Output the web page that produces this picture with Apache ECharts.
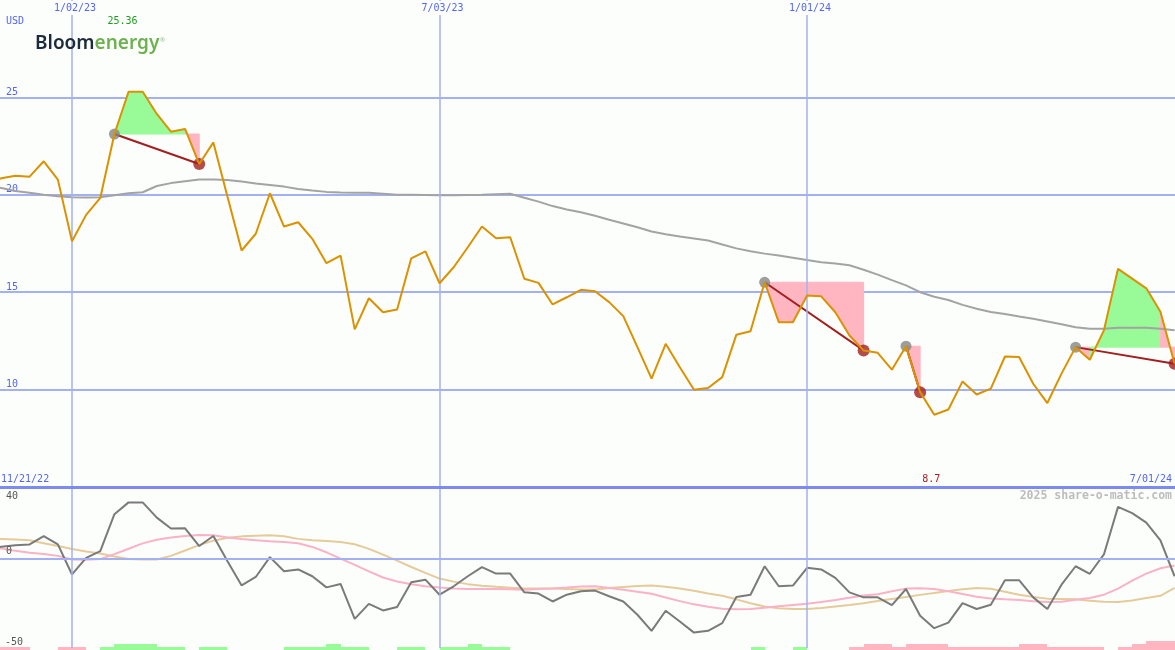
<!DOCTYPE html>
<html><head><meta charset="utf-8">
<script src="https://cdn.jsdelivr.net/npm/echarts@6/dist/echarts.min.js"></script>
<style>html,body{margin:0;padding:0;background:#fcfefc;}#c{width:1175px;height:650px;}</style>
</head><body><div id="c"></div>
<script>
// week index 0 = 1/02/23 ; first point = 11/21/22 (week -6), last = 7/01/24 (week 78)
const firstWeek = -6;
const price = [20.6,20.85,20.98,20.93,21.72,20.78,17.62,18.97,19.84,23.12,
  25.29,25.29,24.15,23.24,23.38,21.58,22.69,19.9,17.14,18.0,
  20.08,18.37,18.59,17.74,16.49,16.88,13.09,14.69,13.97,14.11,
  16.74,17.1,15.46,16.28,17.31,18.37,17.77,17.82,15.69,15.48,
  14.37,14.74,15.12,15.05,14.49,13.77,12.18,10.56,12.35,11.15,
  9.99,10.08,10.64,12.82,13.0,15.51,13.46,13.46,14.83,14.79,
  13.97,12.78,12.01,11.89,11.02,12.23,9.87,8.71,8.98,10.42,
  9.75,10.05,11.7,11.67,10.3,9.31,10.82,12.18,11.53,13.04,
  16.2,15.7,15.2,14.0,11.33];
const movingAvg = [20.45,20.35,20.2,20.1,20.0,19.92,19.87,19.86,19.87,19.98,
  20.08,20.13,20.45,20.6,20.7,20.78,20.78,20.76,20.68,20.58,
  20.5,20.42,20.3,20.22,20.15,20.12,20.11,20.1,20.06,20.0,
  20.0,19.99,19.98,19.98,19.99,20.0,20.03,20.05,19.85,19.65,
  19.42,19.25,19.1,18.92,18.72,18.53,18.33,18.12,17.98,17.86,
  17.76,17.65,17.45,17.25,17.1,16.98,16.88,16.77,16.65,16.54,
  16.47,16.38,16.15,15.9,15.62,15.35,15.0,14.77,14.6,14.35,
  14.15,13.98,13.88,13.75,13.64,13.5,13.35,13.2,13.12,13.13,
  13.17,13.17,13.17,13.12,13.05];
const oscillator = [5.5,6.6,7.5,7.9,12.6,7.9,-8.9,0.4,4.2,24.8,
  31.4,31.4,22.9,16.8,16.9,7.0,12.6,-1.5,-15.0,-10.3,
  0.8,-7.1,-6.1,-9.9,-16.1,-14.2,-33.7,-25.3,-29.0,-27.1,
  -13.3,-11.8,-20.2,-15.5,-9.9,-4.8,-8.4,-8.4,-18.9,-19.6,
  -24.0,-20.2,-18.3,-17.9,-21.1,-24.0,-31.4,-40.4,-29.2,-35.2,
  -41.4,-40.4,-36.1,-21.5,-20.2,-4.3,-15.5,-15.1,-5.2,-6.1,
  -10.8,-18.9,-21.7,-21.7,-26.0,-17.0,-32.0,-38.9,-35.8,-24.9,
  -28.2,-25.8,-12.1,-12.1,-21.7,-28.2,-14.6,-4.3,-8.5,2.3,
  28.9,25.4,20.1,10.2,-9.9];
const oscPink = [6.5,5.6,4.3,3.2,2.6,1.5,-0.5,-0.6,-0.3,2.5,
  5.5,8.5,10.5,11.8,12.6,13.1,13.0,11.8,10.9,10.3,
  9.7,9.3,8.6,6.5,3.5,0.0,-3.5,-7.2,-10.6,-12.8,
  -14.4,-15.5,-16.2,-16.7,-17.0,-17.0,-17.0,-17.2,-17.4,-17.0,
  -16.7,-16.2,-15.6,-15.5,-16.5,-17.4,-18.5,-19.7,-21.8,-23.8,
  -25.6,-27.0,-28.1,-28.3,-28.2,-27.5,-26.7,-26.0,-25.3,-24.3,
  -23.2,-21.9,-20.6,-20.0,-18.3,-16.8,-16.6,-17.0,-18.3,-19.8,
  -21.3,-22.3,-22.8,-23.2,-23.8,-24.3,-24.1,-23.0,-22.1,-20.2,
  -16.8,-12.3,-8.4,-5.4,-3.9];
const oscTan = [11.2,11.0,10.6,10.2,8.6,7.0,5.3,4.0,2.8,1.2,
  -0.3,-0.5,-0.5,1.5,4.5,7.5,10.0,11.6,12.4,12.8,
  13.0,12.5,11.0,10.3,9.8,9.3,8.0,5.4,2.2,-1.2,
  -4.7,-8.0,-11.2,-12.9,-14.3,-15.2,-15.8,-16.3,-16.8,-16.8,
  -16.8,-17.0,-17.3,-17.3,-16.5,-15.9,-15.3,-15.1,-15.8,-16.8,
  -18.0,-19.5,-20.8,-22.8,-25.0,-26.8,-27.8,-28.2,-28.2,-27.7,
  -26.8,-26.0,-25.0,-23.7,-22.6,-21.5,-20.3,-19.3,-18.2,-17.2,
  -16.4,-16.9,-18.5,-20.2,-21.5,-22.4,-22.6,-22.8,-23.6,-24.1,
  -24.3,-23.4,-22.0,-20.8,-16.4];
// signal strip per week (+ green, - pink, magnitude 1..3)
const signalBars = [-1,-1,-1,0,0,-1,-1,0,1,2,
  2,2,1,1,0,1,1,0,0,0,
  0,1,1,1,2,1,1,0,0,1,
  1,0,1,1,2,1,1,0,0,0,
  0,0,0,0,0,0,0,0,0,0,
  0,0,0,0,1,0,0,1,0,0,
  0,-1,-2,-2,-1,-2,-2,-2,-1,-1,
  -1,-1,-1,-2,-2,-1,-1,-1,-1,0,
  -1,-2,-3,-3,0];
// trades: [start week, end week]
const trades = [[3,9],[49,56],[59,60],[71,78]];
const dateTicks = [{week:0,label:'1/02/23'},{week:26,label:'7/03/23'},{week:52,label:'1/01/24'}];
const rangeStartLabel = '11/21/22';
const rangeEndLabel = '7/01/24';
const priceTickLabels = [10,15,20,25];
const oscTickLabels = [40,0,-50];
const highLabel = {week:4, text:'25.36'};
const lowLabel = {week:61, text:'8.7'};

const X_MIN = -5.094, X_MAX = 78.03;
const C = {
  bg:'#fcfefc', grid:'#a3b1f2', divider:'#7b8bf0', blue:'#5566ee',
  price:'#da9200', avg:'#a3a3a3', osc:'#7a7a7a', pink:'#fab2c6', tan:'#e6cb9a',
  up:'#98fb98', down:'#ffb6c1', trade:'#a31f1f', start:'#848484'
};
const MONO = '"DejaVu Sans Mono", monospace';

const weeks = price.map((_, i) => firstWeek + i);
const idx = k => k - firstWeek;
const pairs = arr => arr.map((v, i) => [weeks[i], v]);

const fillData = [];
trades.forEach(([s, e]) => {
  const L = price[idx(s)];
  for (let k = s; k < e; k++) fillData.push([k, price[idx(k)], k + 1, price[idx(k + 1)], L]);
});
const barData = [];
signalBars.forEach((v, i) => { if (v !== 0) barData.push([weeks[i], v]); });

const chart = echarts.init(document.getElementById('c'));
const axisX = gi => ({type:'value', gridIndex:gi, min:X_MIN, max:X_MAX, show:false});

const series = [
  { type:'custom', xAxisIndex:0, yAxisIndex:0, z:1, silent:true, data:fillData,
    encode:{x:[0,2], y:[1,3,4]},
    renderItem:(p, api) => {
      const x0 = api.value(0), y0 = api.value(1), x1 = api.value(2), y1 = api.value(3), L = api.value(4);
      const col = y1 >= L ? C.up : C.down;
      return { type:'polygon', shape:{ points:[api.coord([x0,L]), api.coord([x0,y0]), api.coord([x1,y1]), api.coord([x1,L])] },
        style:{ fill: col, stroke: col, lineWidth: 1 } };
    } },
  { type:'line', xAxisIndex:0, yAxisIndex:0, z:2, data:pairs(movingAvg), showSymbol:false,
    lineStyle:{color:C.avg, width:2}, silent:true,
    markLine:{ silent:true, symbol:['none','none'], label:{show:false},
      lineStyle:{color:C.grid, width:1.5, type:'solid'},
      data: dateTicks.map(t => ({xAxis:t.week})) } }
];
trades.forEach(([s, e]) => {
  series.push({ type:'line', xAxisIndex:0, yAxisIndex:0, z:3, silent:true, showSymbol:false,
    data:[[s, price[idx(s)]], [e, price[idx(e)]]], lineStyle:{color:C.trade, width:2} });
});
series.push(
  { type:'scatter', xAxisIndex:0, yAxisIndex:0, z:4, silent:true, symbolSize:11,
    itemStyle:{color:C.start}, data: trades.map(([s]) => [s, price[idx(s)]]) },
  { type:'scatter', xAxisIndex:0, yAxisIndex:0, z:4, silent:true, symbolSize:12,
    itemStyle:{color:C.trade}, data: trades.map(([, e]) => [e, price[idx(e)]]) },
  { type:'line', xAxisIndex:0, yAxisIndex:0, z:5, data:pairs(price), showSymbol:false,
    lineStyle:{color:C.price, width:2}, silent:true },
  { type:'line', xAxisIndex:1, yAxisIndex:1, z:2, data:pairs(oscTan), showSymbol:false,
    lineStyle:{color:C.tan, width:2}, silent:true,
    markLine:{ silent:true, symbol:['none','none'], label:{show:false},
      data:[
        {xAxis:dateTicks[0].week, lineStyle:{color:C.grid, width:1.5, type:'solid'}},
        {xAxis:dateTicks[1].week, lineStyle:{color:C.grid, width:1.5, type:'solid'}},
        {xAxis:dateTicks[2].week, lineStyle:{color:C.grid, width:1.5, type:'solid'}},
        {yAxis:0, lineStyle:{color:C.grid, width:2, type:'solid'}},
        {yAxis:40, lineStyle:{color:C.divider, width:3, type:'solid'}}
      ] } },
  { type:'line', xAxisIndex:1, yAxisIndex:1, z:3, data:pairs(oscPink), showSymbol:false,
    lineStyle:{color:C.pink, width:2}, silent:true },
  { type:'line', xAxisIndex:1, yAxisIndex:1, z:4, data:pairs(oscillator), showSymbol:false,
    lineStyle:{color:C.osc, width:2}, silent:true },
  { type:'custom', xAxisIndex:2, yAxisIndex:2, z:2, silent:true, data:barData, encode:{x:0, y:1},
    renderItem:(p, api) => {
      const k = api.value(0), v = api.value(1);
      const a = api.coord([k, 0]), b = api.coord([k + 1, Math.abs(v)]);
      const x0 = Math.round(a[0]), x1 = Math.round(b[0]);
      return { type:'rect', shape:{x:x0, y:Math.round(b[1]), width:x1-x0, height:Math.round(a[1])-Math.round(b[1])},
        style:{fill: v > 0 ? C.up : C.down} };
    } }
);

chart.setOption({
  backgroundColor:C.bg,
  animation:false,
  grid:[{left:0,right:0,top:0,height:487},{left:0,right:0,top:487,height:161},{left:0,right:0,top:641,height:9}],
  xAxis:[axisX(0), axisX(1), axisX(2)],
  yAxis:[
    {type:'value', gridIndex:0, min:5, max:30, interval:5,
      axisLine:{show:false}, axisTick:{show:false},
      splitLine:{show:true, showMinLine:false, showMaxLine:false, lineStyle:{color:C.grid, width:2}},
      axisLabel:{inside:true, margin:6, verticalAlign:'bottom', color:C.blue, fontFamily:MONO, fontSize:10,
        formatter: v => priceTickLabels.includes(v) ? String(v) : ''}},
    {type:'value', gridIndex:1, min:-50, max:40, show:false},
    {type:'value', gridIndex:2, min:0, max:3, show:false}
  ],
  series
});

const X = k => chart.convertToPixel({xAxisIndex:0}, k);
const YB = v => chart.convertToPixel({yAxisIndex:1}, v);
const txt = (text, x, y, fill, align, extra) => ({ type:'text', z:100, silent:true,
  style:Object.assign({ text, x, y, fill, align, verticalAlign:'middle', font:'10px ' + MONO }, extra || {}) });

const g = [];
dateTicks.forEach(t => g.push(txt(t.label, X(t.week) + 3, 8, C.blue, 'center',
  {backgroundColor:C.bg, padding:[2,2,2,2]})));
g.push(txt('USD', 6, 21, C.blue, 'left'));
g.push(txt(highLabel.text, X(highLabel.week) - 6, 21, '#239a23', 'center'));
g.push(txt(lowLabel.text, X(lowLabel.week) - 3, 479, '#a52020', 'center'));
g.push(txt(rangeStartLabel, 1, 479, C.blue, 'left'));
g.push(txt(rangeEndLabel, 1172, 479, C.blue, 'right'));
g.push(txt(String(oscTickLabels[0]), 6, YB(oscTickLabels[0]) + 9, '#555555', 'left'));
g.push(txt(String(oscTickLabels[1]), 6, YB(oscTickLabels[1]) - 7, '#555555', 'left'));
g.push(txt(String(oscTickLabels[2]), 5, YB(oscTickLabels[2]) - 6, '#555555', 'left'));
g.push(txt('2025 share-o-matic.com', 1172, 496, '#bdbdbd', 'right', {font:'bold 11.5px ' + MONO}));
g.push({ type:'text', z:100, silent:true, style:{ x:35, y:44, verticalAlign:'middle', align:'left',
  text:'{a|Bloom}{b|energy}',
  rich:{ a:{fill:'#1c2b39', fontSize:19, fontWeight:600, fontFamily:'"Noto Sans"'},
         b:{fill:'#6db24f', fontSize:19, fontWeight:600, fontFamily:'"Noto Sans"'} } } });
g.push(txt('®', 160, 40, '#8fbf8f', 'left', {font:'6px "Noto Sans"'}));
chart.setOption({graphic: g});
</script></body></html>
